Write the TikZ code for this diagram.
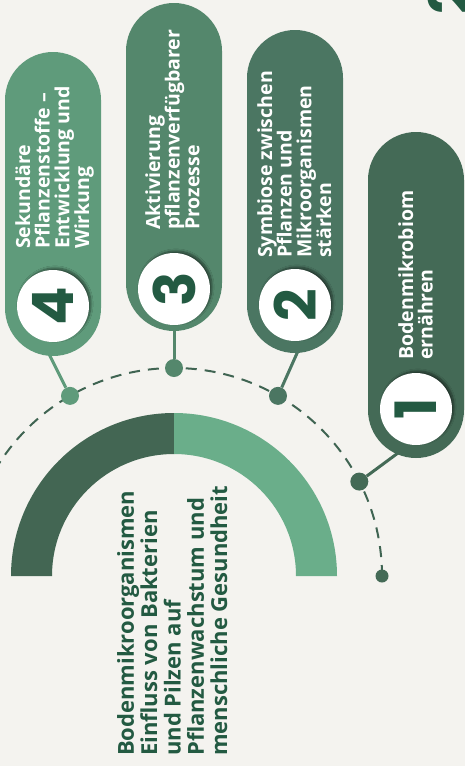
\documentclass[tikz,border=0pt]{standalone}
\usepackage{fontspec}
\setmainfont{Open Sans}
\newfontfamily\numfont{Poppins}
\usetikzlibrary{shadows.blur}

\definecolor{fundo}{HTML}{F4F3EF}
\definecolor{verdeA}{HTML}{446A56}
\definecolor{verdeB}{HTML}{4B7662}
\definecolor{verdeC}{HTML}{54876C}
\definecolor{verdeD}{HTML}{5F9B7B}
\definecolor{anelescuro}{HTML}{436653}
\definecolor{anelclaro}{HTML}{6AAE8A}
\definecolor{textoverde}{HTML}{235A42}
\definecolor{tracejado}{HTML}{3F6452}

\tikzset{
  pilula/.style={rounded corners=48pt},
  pilltext/.style={rotate=90, anchor=north west, align=left, inner sep=0pt, text=white,
    font=\bfseries\fontsize{19.5}{19.7}\selectfont},
  numcirc/.style={circle, fill=white, minimum size=72pt, inner sep=0pt, rotate=90, text=textoverde,
    font=\numfont\bfseries\fontsize{57}{57}\selectfont,
    blur shadow={shadow xshift=2pt, shadow yshift=2pt, shadow opacity=50, shadow blur steps=8}},
  ponto/.style={circle, inner sep=0pt, minimum size=18pt},
  ligacao/.style={line width=3pt}
}

\begin{document}
\begin{tikzpicture}[x=1pt, y=-1pt]
        \clip (0,0) rectangle (465,766);
        \fill[fundo] (0,0) rectangle (465,766);

        \coordinate (centro) at (174,576);

        % meio anel
        \fill[anelescuro] ([shift={(180:163pt)}]centro) arc[start angle=180, end angle=90, radius=163pt]
            -- ([shift={(90:122pt)}]centro) arc[start angle=90, end angle=180, radius=122pt] -- cycle;
        \fill[anelclaro] ([shift={(90:163pt)}]centro) arc[start angle=90, end angle=0, radius=163pt]
            -- ([shift={(0:122pt)}]centro) arc[start angle=0, end angle=90, radius=122pt] -- cycle;

        \node[rotate=90, anchor=north west, align=left, inner sep=0pt, text=textoverde,
            font=\bfseries\fontsize{22}{23.3}\selectfont] (titulo) at (117,756)
            {Bodenmikroorganismen\\Einfluss von Bakterien\\und Pilzen auf\\Pflanzenwachstum und\\menschliche Gesundheit};

        % linha tracejada
        \draw[tracejado, line width=2pt, dash pattern=on 11pt off 8pt]
            ([shift={(0:208pt)}]centro) arc[start angle=0, end angle=185, radius=208pt];

        % pilulas
        \fill[verdeD, pilula] (5,52) rectangle (101,356);
        \fill[verdeC, pilula] (126,3) rectangle (222,331);
        \fill[verdeB, pilula] (247,30) rectangle (343,353);
        \fill[verdeA, pilula] (368,132) rectangle (464,458);

        \coordinate (p4) at (49,354);
        \coordinate (p3) at (174,329);
        \coordinate (p2) at (298,351);
        \coordinate (p1) at (398,453);

        % pontos
        \node[ponto, fill=verdeD] (d4) at ([shift={(120:208pt)}]centro) {};
        \node[ponto, fill=verdeC] (d3) at ([shift={(90:208pt)}]centro) {};
        \node[ponto, fill=verdeB] (d2) at ([shift={(60:208pt)}]centro) {};
        \node[ponto, fill=verdeA] (d1) at ([shift={(27:208pt)}]centro) {};
        \node[ponto, fill=verdeA, minimum size=13pt] (fim) at ([shift={(0:208pt)}]centro) {};

        \draw[ligacao, verdeD] (p4) -- (d4);
        \draw[ligacao, verdeC] (p3) -- (d3);
        \draw[ligacao, verdeB] (p2) -- (d2);
        \draw[ligacao, verdeA] (p1) -- (d1);

        % numeros
        \node[numcirc] (n4) at (53,306) {4};
        \node[numcirc] (n3) at (174,289) {3};
        \node[numcirc] (n2) at (295,305) {2};
        \node[numcirc] (n1) at (416,409) {1};
        \node[rotate=90, text=textoverde, font=\numfont\bfseries\fontsize{57}{57}\selectfont] (canto) at (449,-2) {2};

        % textos
        \node[pilltext] (t4) at (15,249) {Sekundäre\\Pflanzenstoffe –\\Entwicklung und\\Wirkung};
        \node[pilltext] (t3) at (145,230) {Aktivierung\\pflanzenverfügbarer\\Prozesse};
        \node[pilltext] (t2) at (257,258) {Symbiose zwischen\\Pflanzen und\\Mikroorganismen\\stärken};
        \node[pilltext] (t1) at (398,360) {Bodenmikrobiom\\ernähren};
\end{tikzpicture}
\end{document}
